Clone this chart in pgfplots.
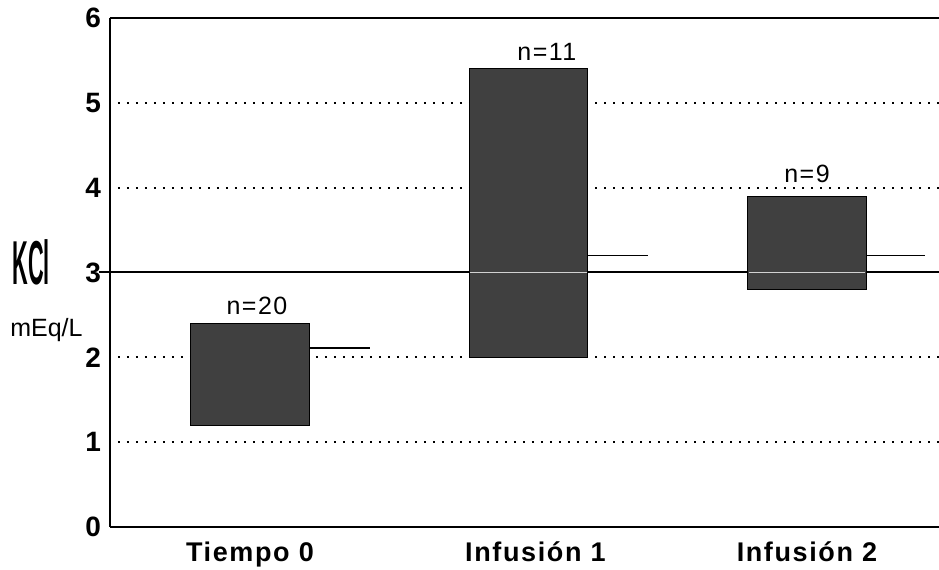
\documentclass[border=0pt]{standalone}
\usepackage{fontspec}
\setmainfont{Liberation Sans}
\newfontfamily\lab[LetterSpace=6]{Liberation Sans}
\newfontfamily\nlab[LetterSpace=6]{Liberation Sans}
\usepackage{graphicx}
\usepackage{pgfplots}
\pgfplotsset{compat=1.18}
\definecolor{barfill}{gray}{0.25}
\begin{document}
\begin{tikzpicture}
\begin{axis}[
  name=ax,
  scale only axis,
  width=414.5pt, height=254.5pt,
  xmin=-0.5027, xmax=2.474,
  ymin=0, ymax=6,
  clip=false,
  axis x line*=bottom, axis y line*=left,
  axis line style={-, line width=1pt},
  major tick length=0pt,
  xtick={0,1.025,2},
  xticklabels={Tiempo 0, Infusión 1, Infusión 2},
  xticklabel style={font=\lab\fontsize{13.5}{15}\selectfont\bfseries, yshift=-4pt},
  ytick={0,1,2,3,4,5,6},
  yticklabel style={font=\fontsize{14}{16}\selectfont\bfseries, xshift=-1pt},
  /pgf/number format/assume math mode=true,
  ymajorgrids,
  major grid style={black, line width=1pt, dash pattern=on 1pt off 3.5pt, dash phase=-4pt},
]
% solid reference line at 3
\addplot[black, line width=1pt] coordinates {(-0.543,3) (2.474,3)};
% floating bars (low to high)
\addplot[fill=barfill, draw=black, line width=0.6pt] coordinates {(-0.215,1.2) (0.215,1.2) (0.215,2.4) (-0.215,2.4)} -- cycle;
\addplot[fill=barfill, draw=black, line width=0.6pt] coordinates {(0.787,2.0) (1.213,2.0) (1.213,5.4) (0.787,5.4)} -- cycle;
\addplot[fill=barfill, draw=black, line width=0.6pt] coordinates {(1.787,2.8) (2.213,2.8) (2.213,3.9) (1.787,3.9)} -- cycle;
% light line where the reference line crosses the bars
\addplot[gray!35, line width=0.7pt] coordinates {(0.79,3) (1.21,3)};
\addplot[gray!35, line width=0.7pt] coordinates {(1.79,3) (2.21,3)};
% mean markers
\addplot[black, line width=0.8pt] coordinates {(0.215,2.11) (0.431,2.11)};
\addplot[black, line width=0.8pt] coordinates {(1.213,3.2) (1.429,3.2)};
\addplot[black, line width=0.8pt] coordinates {(2.213,3.2) (2.424,3.2)};
% n labels
\node[font=\nlab\fontsize{12.5}{14}\selectfont] at (axis cs:0.025,2.61) {n=20};
\node[font=\nlab\fontsize{12.5}{14}\selectfont] at (axis cs:1.066,5.60) {n=11};
\node[font=\nlab\fontsize{12.5}{14}\selectfont] at (axis cs:2.0,4.16) {n=9};
% axis title
\node at (axis cs:-0.786,3.125) {\scalebox{0.35}[1]{\fontsize{31}{31}\selectfont\bfseries KCl}};
\node[font=\fontsize{12.5}{14}\selectfont] at (axis cs:-0.731,2.32) {mEq/L};
% top frame line
\draw[line width=1pt] (rel axis cs:0,1) -- (rel axis cs:1,1);
\end{axis}
\pgfresetboundingbox
\path ([shift={(-55pt,-21.5pt)}]ax.south west) rectangle ([shift={(0pt,9pt)}]ax.north east);
\end{tikzpicture}
\end{document}
